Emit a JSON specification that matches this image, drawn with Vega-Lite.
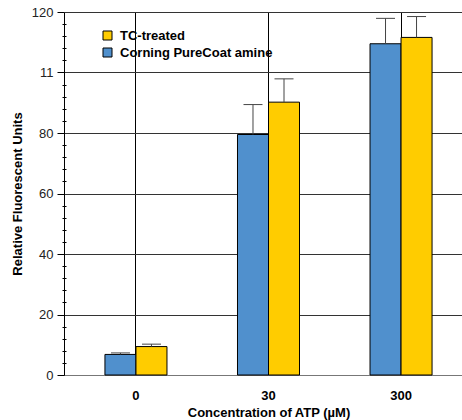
{
  "$schema": "https://vega.github.io/schema/vega-lite/v6.json",
  "autosize": {"type": "none"},
  "padding": {"left": 64, "top": 12, "right": 0, "bottom": 45},
  "width": 409,
  "height": 363,
  "config": {"font": "Liberation Sans", "view": {"stroke": null}},
  "data": {"values": [
    {"conc": "0", "surface": "Corning PureCoat amine", "value": 6.8, "upper": 7.3},
    {"conc": "0", "surface": "TC-treated", "value": 9.4, "upper": 10.2},
    {"conc": "30", "surface": "Corning PureCoat amine", "value": 79.5, "upper": 89.4},
    {"conc": "30", "surface": "TC-treated", "value": 90.2, "upper": 97.9},
    {"conc": "300", "surface": "Corning PureCoat amine", "value": 109.5, "upper": 117.9},
    {"conc": "300", "surface": "TC-treated", "value": 111.6, "upper": 118.5}
  ]},
  "encoding": {
    "x": {
      "field": "conc", "type": "nominal", "sort": ["0", "30", "300"],
      "scale": {"paddingInner": 0.532, "paddingOuter": 0.309},
      "axis": {
        "grid": true, "gridColor": "#000", "gridWidth": 1, "bandPosition": 0.5,
        "ticks": false, "domainColor": "#777", "labelAngle": 0,
        "labelFontSize": 13, "labelFontWeight": "bold", "labelColor": "#000", "labelPadding": 14,
        "title": "Concentration of ATP (µM)", "titleFontSize": 13, "titleFontWeight": "bold",
        "titleColor": "#000", "titlePadding": 4
      }
    },
    "xOffset": {"field": "surface", "sort": ["Corning PureCoat amine", "TC-treated"], "scale": {"paddingInner": 0, "paddingOuter": 0}}
  },
  "layer": [
    {
      "mark": {"type": "bar", "stroke": "#000", "strokeWidth": 1},
      "encoding": {
        "y": {
          "field": "value", "type": "quantitative",
          "scale": {"domain": [0, 120], "nice": false},
          "axis": {
            "values": [0, 20, 40, 60, 80, 100, 120],
            "labelExpr": "datum.value == 100 ? '11' : datum.label",
            "grid": true, "gridColor": "#333", "domainColor": "#000", "tickColor": "#000", "tickSize": 7,
            "labelFontSize": 13, "labelColor": "#222", "labelPadding": 4,
            "title": "Relative Fluorescent Units", "titleFontSize": 13, "titleFontWeight": "bold",
            "titleColor": "#000", "titlePadding": 7
          }
        },
        "color": {
          "field": "surface", "type": "nominal",
          "scale": {"domain": ["TC-treated", "Corning PureCoat amine"], "range": ["#FFCC00", "#5090CD"]},
          "legend": {
            "title": null, "orient": "none", "legendX": 37, "legendY": 17,
            "symbolType": "square", "symbolSize": 81, "symbolStrokeColor": "#000", "symbolStrokeWidth": 1,
            "symbolOpacity": 1,
            "labelFontSize": 13, "labelFontWeight": "bold", "labelColor": "#000", "rowPadding": 3, "labelOffset": 6
          }
        }
      }
    },
    {
      "mark": {"type": "rule", "color": "#444", "strokeWidth": 1},
      "encoding": {
        "y": {"field": "value", "type": "quantitative", "axis": null},
        "y2": {"field": "upper"}
      }
    },
    {
      "mark": {"type": "tick", "orient": "horizontal", "size": 19, "thickness": 1, "color": "#444", "opacity": 1},
      "encoding": {
        "y": {
          "field": "upper", "type": "quantitative",
          "axis": {
            "orient": "left", "values": [4, 8, 12, 16, 24, 28, 32, 36, 44, 48, 52, 56, 64, 68, 72, 76, 84, 88, 92, 96, 104, 108, 112, 116],
            "labels": false, "domain": false, "grid": false, "tickSize": 4, "tickColor": "#000", "offset": -2, "title": null
          }
        }
      }
    }
  ],
  "resolve": {"axis": {"y": "independent"}}
}
